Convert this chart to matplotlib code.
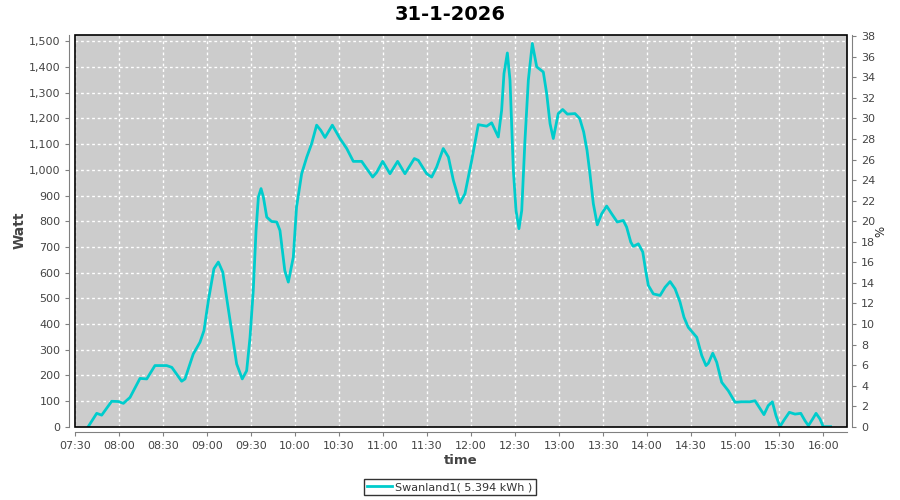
import numpy as np
import matplotlib
matplotlib.use("Agg")
from matplotlib import pyplot as plt
from matplotlib.patches import Rectangle
from matplotlib.ticker import FuncFormatter, MultipleLocator

# minutes after 07:30 and power in Watt
minutes = [9, 14.8, 18.2, 25, 29.5, 33, 37.5, 44.3, 48.9, 54.5, 62.5, 66, 72.7, 75,
           80.6, 85.2, 87.9, 90.9, 94.7, 97.7, 100.7, 105.7, 110.2, 114, 117, 119.3,
           121.5, 123.4, 125, 126.8, 128.4, 130.7, 134, 137.5, 139.7, 143, 145.4,
           148.8, 151, 154.5, 158, 161.3, 164.7, 167.5, 170.4, 175.4, 180.6, 185.2,
           189.7, 195.4, 198.8, 202.9, 205.6, 209.7, 214.7, 219.9, 224.9, 231.3, 234,
           239.7, 243.1, 246.5, 251, 254.5, 257.9, 262.4, 265.8, 270.4, 274.9, 280.6,
           284, 288.5, 290.8, 292.4, 294.7, 296.5, 298.8, 300.6, 302.6, 304.5, 306.7,
           309, 311.7, 314.7, 319.2, 321.5, 323.8, 326, 329.4, 332.4, 335.6, 340.8,
           344, 346.7, 349, 351, 353.3, 356, 359, 362.4, 365.8, 369.6, 373.7, 376,
           378.8, 380.5, 384, 387, 389.2, 390.8, 394.2, 398.8, 402.2, 405.6, 409,
           412.4, 415.1, 418, 423.8, 427.2, 430.1, 431.7, 434.7, 437.4, 440.8, 445.3,
           449.9, 454.4, 460, 463.5, 466.4, 469.6, 472.5, 475.3, 477.8, 480.5, 483.3,
           486.9, 490.8, 494.7, 497.6, 499.9, 502.8, 505.1, 507.8, 510, 515]
watt = [0, 52, 45, 99, 98, 91, 114, 188, 186, 238, 238, 231, 177, 186,
        283, 329, 374, 491, 615, 641, 602, 413, 244, 186, 218, 348,
        530, 764, 894, 927, 894, 816, 799, 797, 764, 608, 563,
        660, 855, 985, 1050, 1102, 1174, 1154, 1126, 1174, 1122, 1083,
        1033, 1033, 1005, 972, 990, 1033, 985, 1033, 985, 1044, 1037,
        985, 972, 1011, 1083, 1050, 959, 871, 907, 1037, 1176, 1170,
        1183, 1128, 1232, 1375, 1455, 1349, 998, 842, 771, 842, 1115,
        1349, 1492, 1401, 1381, 1297, 1180, 1122, 1219, 1235, 1217, 1219,
        1200, 1148, 1076, 985, 868, 786, 829, 859, 829, 797, 803, 777,
        719, 702, 712, 680, 600, 550, 517, 511, 543, 565, 537,
        485, 426, 387, 348, 277, 238, 247, 286, 251, 173, 140,
        95, 97, 97, 101, 75, 47, 82, 97, 43, 0, 26,
        56, 49, 52, 23, 4, 30, 52, 30, 0, 0]

title = "31-1-2026"
series_name = "Swanland1( 5.394 kWh )"
line_color = "#00CCCC"
tick_color = "#444444"

fig = plt.figure(figsize=(9, 5), dpi=100)
ax = fig.add_axes([75 / 900, 1 - 426.7 / 500, (846.7 - 75) / 900, (426.7 - 35) / 500])
ax.set_facecolor("#CCCCCC")

ax.plot(minutes, watt, color=line_color, lw=2, label=series_name, zorder=3)

ax.set_xlim(0, 526)
ax.set_ylim(0, 1525)
ax.xaxis.set_major_locator(MultipleLocator(30))
ax.xaxis.set_major_formatter(FuncFormatter(
    lambda v, p: "%02d:%02d" % ((450 + int(v)) // 60, (450 + int(v)) % 60)))
ax.yaxis.set_major_locator(MultipleLocator(100))
ax.yaxis.set_major_formatter(FuncFormatter(lambda v, p: "{:,.0f}".format(v)))
ax.grid(True, color="white", ls=(0, (2, 2)), lw=1)
ax.set_axisbelow(True)

# secondary axis in percent
ax2 = ax.twinx()
ax2.set_ylim(0, 1525 / 40)
ax2.yaxis.set_major_locator(MultipleLocator(2))

for a in (ax, ax2):
    for s in a.spines.values():
        s.set_color("#808080")
    a.spines["left"].set_position(("outward", 4))
    a.spines["right"].set_position(("outward", 4))
    a.spines["bottom"].set_position(("outward", 4))
    a.spines["top"].set_visible(False)
    a.tick_params(labelsize=8, length=3, direction="out",
                  colors="#808080", labelcolor=tick_color)

ax2.spines["left"].set_visible(False)
ax.spines["right"].set_visible(False)
ax2.spines["bottom"].set_visible(False)

# black plot outline
ax.add_patch(Rectangle((0, 0), 1, 1, transform=ax.transAxes, fill=False,
                       ec="black", lw=1.2, zorder=5, clip_on=False))

fig.text(20 / 900, 1 - 230 / 500, "Watt", rotation=90, ha="center", va="center",
         fontsize=10, fontweight="bold", color="#444444")
fig.text(461 / 900, 1 - 460 / 500, "time", ha="center", va="center",
         fontsize=9.5, fontweight="bold", color="#444444")
fig.text(881 / 900, 1 - 231 / 500, "%", rotation=90, ha="center", va="center",
         fontsize=8.5, color="#222222")
fig.text(450 / 900, 1 - 14 / 500, title, ha="center", va="center",
         fontsize=14, fontweight="bold", color="black")

leg = fig.legend(loc="center", bbox_to_anchor=(450 / 900, 1 - 487 / 500),
                 fontsize=8, frameon=True, fancybox=False, handlelength=2.2,
                 borderpad=0.3, handletextpad=0.3, borderaxespad=0)
leg.get_frame().set_edgecolor("black")
leg.get_frame().set_linewidth(1)
for t in leg.get_texts():
    t.set_color("#333333")

plt.savefig("out.png", dpi=100)
